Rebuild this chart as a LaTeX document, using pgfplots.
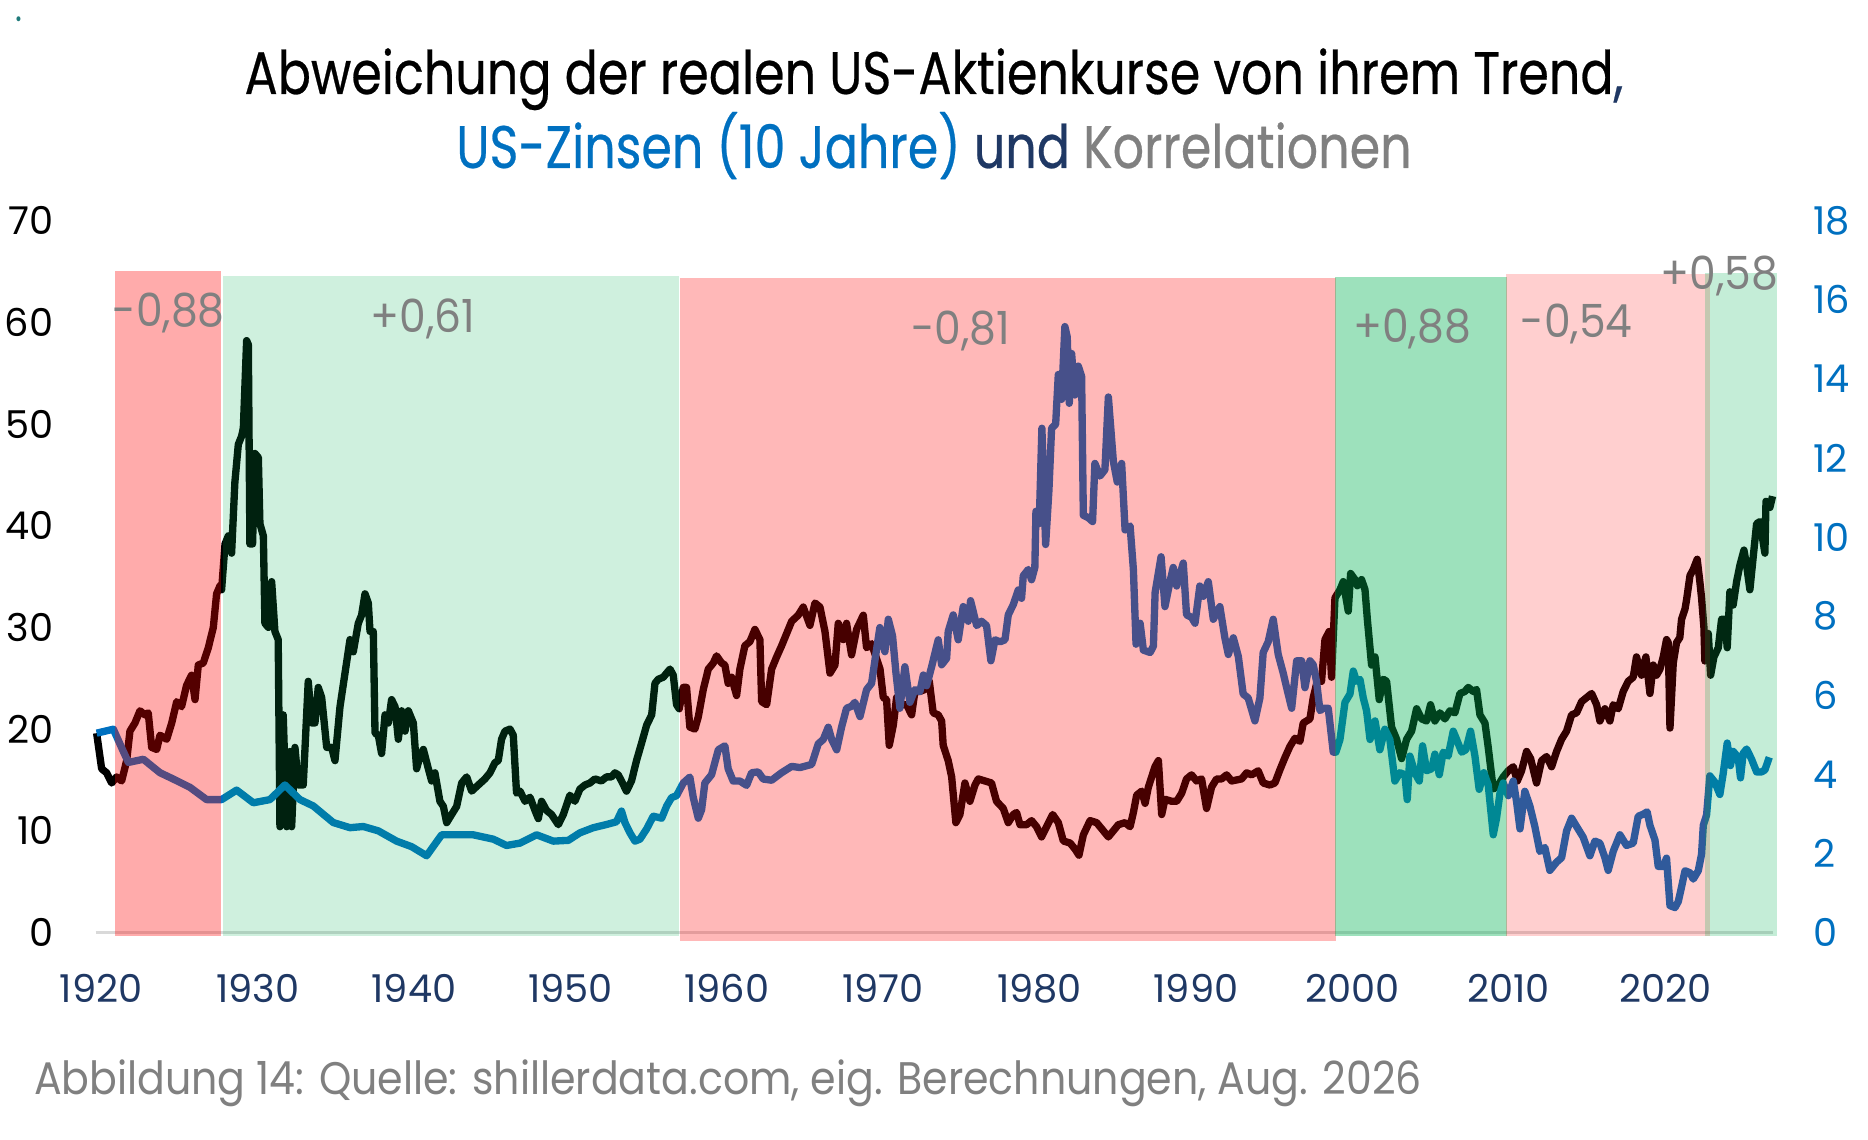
\documentclass[border=0pt]{standalone}
\usepackage{fontspec}
\setmainfont[FakeStretch=0.82]{Poppins}
\newfontfamily\titlefont[FakeStretch=0.82,FakeBold=0.4]{Poppins}
\newfontfamily\tickfont{Poppins}
\newfontfamily\corrfont[FakeStretch=0.93]{Poppins}
\newfontfamily\footfont[FakeStretch=0.90]{Poppins}
\usepackage{pgfplots}
\pgfplotsset{compat=1.18}
\definecolor{zblue}{HTML}{0070C0}
\definecolor{navy}{HTML}{1F3864}
\definecolor{cgray}{HTML}{808080}
\definecolor{bgreen}{HTML}{00B050}
\definecolor{axgray}{HTML}{D9D9D9}
\definecolor{dotc}{HTML}{1F7A7A}

\pgfplotsset{
  base/.style={
    at={(28.71pt,-279.75pt)}, anchor=south west, scale only axis,
    width=503.2pt, height=213.57pt,
    xmin=1919.65, xmax=2026.9,
    axis line style={draw=none}, major tick length=0pt,
    /pgf/number format/assume math mode=true,
    tick label style={font=\tickfont\fontsize{11.5}{12}\selectfont},
  }
}

\begin{document}
\begin{tikzpicture}
\useasboundingbox (0,0) rectangle (560.4pt,-342pt);

% ---------- axis 1: deviation from trend (left) ----------
\begin{axis}[base,
  ymin=0, ymax=70, ytick={0,10,20,30,40,50,60,70},
  xtick={1920,1930,1940,1950,1960,1970,1980,1990,2000,2010,2020},
  xticklabels={1920,1930,1940,1950,1960,1970,1980,1990,2000,2010,2020},
  xtick pos=bottom, ytick pos=left,
  yticklabel style={anchor=east, inner sep=0pt, xshift=-12.5pt, text=black},
  xticklabel style={anchor=north, inner sep=0pt, yshift=-12.4pt, text=navy},
  clip=false]
\addplot[axgray, line width=0.8pt] coordinates {(1919.65,0) (2026.9,0)};
\addplot[black, line width=2.2pt, line join=round] coordinates {
(1919.71,19.6) (1920.03,16.1) (1920.35,15.7) (1920.67,14.7) (1920.99,15.3) (1921.31,14.9)
(1921.63,16.9) (1921.84,19.8) (1922.16,20.6) (1922.48,21.8) (1922.80,21.4) (1923.01,21.6)
(1923.23,18.2) (1923.55,18.0) (1923.76,19.4) (1924.19,19.0) (1924.51,20.6) (1924.83,22.7)
(1925.14,22.2) (1925.46,24.3) (1925.78,25.3) (1926.00,22.9) (1926.21,26.3) (1926.53,26.5)
(1926.85,28.0) (1927.17,30.0) (1927.38,33.3) (1927.60,34.1) (1927.70,33.7) (1927.92,38.2)
(1928.13,39.0) (1928.34,37.3) (1928.55,44.3) (1928.77,48.0) (1928.98,48.8) (1929.09,49.6)
(1929.30,58.2) (1929.41,57.8) (1929.51,38.2) (1929.68,38.2) (1929.83,47.1) (1930.05,46.7)
(1930.15,40.2) (1930.37,39.0) (1930.47,30.4) (1930.69,30.0) (1930.90,34.5) (1931.11,29.6)
(1931.32,28.8) (1931.43,10.4) (1931.64,21.4) (1931.86,10.4) (1932.07,17.8) (1932.18,10.4)
(1932.39,18.2) (1932.61,14.5) (1932.92,14.5) (1933.24,24.7) (1933.46,20.6) (1933.67,20.6)
(1933.88,24.1) (1934.10,23.1) (1934.42,18.2) (1934.74,18.2) (1934.95,16.9) (1935.27,22.2)
(1935.59,25.5) (1935.91,28.8) (1936.12,27.6) (1936.44,30.4) (1936.65,31.2) (1936.87,33.3)
(1937.08,32.4) (1937.19,29.6) (1937.40,29.6) (1937.51,19.6) (1937.72,19.4) (1937.93,17.6)
(1938.15,21.4) (1938.36,20.6) (1938.57,22.9) (1938.79,22.2) (1939.00,19.0) (1939.21,21.8)
(1939.43,19.8) (1939.64,21.8) (1939.96,20.6) (1940.17,16.1) (1940.38,17.3) (1940.60,18.0)
(1940.92,16.1) (1941.13,14.9) (1941.34,15.7) (1941.66,12.9) (1941.88,12.4) (1942.09,10.8)
(1942.41,11.6) (1942.73,12.4) (1943.05,14.7) (1943.37,15.3) (1943.69,13.9) (1944.11,14.5)
(1944.54,15.1) (1944.86,15.7) (1945.18,16.7) (1945.39,16.9) (1945.60,19.0) (1945.82,19.8)
(1946.14,20.0) (1946.35,19.4) (1946.56,13.7) (1946.78,13.9) (1947.10,12.9) (1947.42,13.3)
(1947.74,12.0) (1947.95,11.2) (1948.16,12.9) (1948.48,12.0) (1948.80,11.6) (1949.23,10.6)
(1949.55,11.6) (1949.97,13.5) (1950.29,12.9) (1950.61,14.1) (1950.93,14.5) (1951.25,14.7)
(1951.57,15.1) (1951.99,14.9) (1952.31,15.3) (1952.63,15.3) (1952.85,15.7) (1953.06,15.5)
(1953.27,14.9) (1953.59,13.9) (1953.91,14.9) (1954.23,16.9) (1954.55,18.6) (1954.88,20.4)
(1955.20,21.4) (1955.41,24.5) (1955.62,24.9) (1955.94,25.1) (1956.37,25.9) (1956.58,25.3)
(1956.79,22.4) (1956.96,22.0) (1957.22,24.1) (1957.43,24.1) (1957.64,20.2) (1957.96,20.0)
(1958.18,21.2) (1958.50,23.9) (1958.82,25.9) (1959.14,26.5) (1959.35,27.2) (1959.67,26.5)
(1959.88,26.3) (1960.09,24.5) (1960.31,25.1) (1960.63,23.3) (1960.84,25.9) (1961.16,28.2)
(1961.48,28.6) (1961.80,29.8) (1962.12,28.8) (1962.23,22.7) (1962.55,22.4) (1962.87,25.9)
(1963.19,27.1) (1963.51,28.2) (1963.83,29.4) (1964.15,30.6) (1964.57,31.2) (1964.89,32.0)
(1965.32,30.2) (1965.64,32.4) (1965.96,32.0) (1966.28,29.6) (1966.60,25.5) (1966.92,26.3)
(1967.13,30.4) (1967.45,28.8) (1967.66,30.4) (1967.98,27.3) (1968.30,29.8) (1968.73,31.2)
(1968.94,28.0) (1969.26,28.4) (1969.80,25.9) (1970.01,23.1) (1970.22,22.9) (1970.39,18.4)
(1970.65,20.4) (1970.86,23.1) (1971.18,22.4) (1971.50,22.4) (1971.82,21.4) (1972.03,23.7)
(1972.35,23.7) (1972.67,23.9) (1972.95,24.7) (1973.20,21.6) (1973.52,21.4) (1973.74,20.8)
(1973.84,18.4) (1974.16,16.9) (1974.38,15.3) (1974.65,10.8) (1974.91,11.6) (1975.23,14.7)
(1975.55,12.9) (1975.87,14.5) (1976.08,15.1) (1976.51,14.9) (1976.93,14.7) (1977.25,12.9)
(1977.68,12.2) (1978.00,10.8) (1978.32,11.6) (1978.53,11.8) (1978.75,10.6) (1979.17,10.6)
(1979.49,11.0) (1979.81,10.4) (1980.13,9.4) (1980.45,10.4) (1980.84,11.6) (1981.20,10.8)
(1981.52,9.0) (1981.95,8.8) (1982.27,8.2) (1982.52,7.6) (1982.80,9.6) (1983.23,11.0)
(1983.65,10.8) (1984.08,10.0) (1984.40,9.4) (1984.72,10.0) (1985.04,10.6) (1985.47,10.8)
(1985.79,10.4) (1986.00,11.8) (1986.21,13.5) (1986.53,13.9) (1986.75,12.7) (1986.96,14.3)
(1987.17,15.3) (1987.38,16.3) (1987.60,16.9) (1987.81,11.6) (1988.02,13.1) (1988.45,12.9)
(1988.77,12.9) (1989.09,13.7) (1989.40,15.1) (1989.72,15.5) (1990.04,14.9) (1990.36,15.1)
(1990.68,12.2) (1991.00,14.3) (1991.32,15.1) (1991.64,15.1) (1991.96,15.5) (1992.28,14.9)
(1992.60,15.0) (1992.92,15.1) (1993.24,15.7) (1993.56,15.5) (1993.98,15.9) (1994.30,14.7)
(1994.73,14.5) (1995.05,14.7) (1995.37,16.0) (1995.69,17.2) (1996.01,18.3) (1996.33,19.1)
(1996.65,18.8) (1996.86,20.6) (1997.29,21.0) (1997.50,23.1) (1997.82,25.1) (1998.03,24.7)
(1998.25,28.8) (1998.52,29.6) (1998.67,25.1) (1998.89,32.9) (1999.21,33.7) (1999.42,34.5)
(1999.74,31.6) (1999.89,35.3) (2000.17,34.7) (2000.32,34.1) (2000.59,34.7) (2000.81,33.7)
(2000.96,30.8) (2001.23,26.3) (2001.45,27.1) (2001.72,22.9) (2001.98,24.9) (2002.19,24.7)
(2002.51,20.2) (2002.83,19.0) (2003.15,17.1) (2003.47,19.0) (2003.79,19.8) (2004.11,22.0)
(2004.43,21.0) (2004.75,20.8) (2005.00,22.4) (2005.28,20.8) (2005.60,21.6) (2005.92,21.0)
(2006.24,21.8) (2006.56,21.6) (2006.88,23.5) (2007.20,23.7) (2007.41,24.1) (2007.73,23.7)
(2007.94,23.9) (2008.16,21.4) (2008.48,20.6) (2008.69,18.2) (2009.01,14.1) (2009.33,14.5)
(2009.65,15.3) (2009.97,15.9) (2010.29,16.3) (2010.55,14.9) (2010.82,15.9) (2011.14,17.8)
(2011.40,17.1) (2011.78,14.7) (2012.10,16.9) (2012.42,17.3) (2012.74,16.3) (2013.06,17.8)
(2013.38,19.0) (2013.70,19.8) (2014.02,21.4) (2014.34,21.6) (2014.66,22.7) (2014.98,23.1)
(2015.30,23.5) (2015.62,22.4) (2015.83,20.8) (2016.15,22.0) (2016.47,20.8) (2016.68,22.4)
(2017.00,22.0) (2017.32,23.7) (2017.64,24.7) (2017.96,25.1) (2018.17,27.1) (2018.49,25.3)
(2018.77,27.1) (2019.03,23.5) (2019.24,26.3) (2019.45,25.3) (2019.67,25.9) (2019.88,27.1)
(2020.09,28.8) (2020.20,28.5) (2020.31,20.1) (2020.52,26.5) (2020.73,28.5) (2020.94,29.0)
(2021.05,30.8) (2021.27,31.8) (2021.37,32.7) (2021.59,35.1) (2021.80,35.7) (2022.05,36.7)
(2022.22,34.5) (2022.33,32.9) (2022.48,30.0) (2022.54,26.7) (2022.76,29.4) (2022.91,25.3)
(2023.12,27.1) (2023.40,28.0) (2023.61,30.8) (2023.82,30.8) (2023.97,28.0) (2024.14,33.5)
(2024.35,32.2) (2024.57,34.5) (2024.78,36.1) (2025.04,37.6) (2025.21,36.1) (2025.42,33.7)
(2025.63,36.9) (2025.85,40.2) (2026.06,40.4) (2026.38,37.3) (2026.45,42.4) (2026.70,41.8)
(2026.87,42.9)};
\end{axis}

% ---------- axis 2: 10-year rates (right) ----------
\begin{axis}[base,
  ymin=0, ymax=18, ytick={0,2,4,6,8,10,12,14,16,18},
  xtick=\empty, ytick pos=right, yticklabel pos=right,
  yticklabel style={anchor=west, inner sep=0pt, xshift=12pt, text=zblue}]
\addplot[zblue, line width=2.2pt, line join=round] coordinates {
(1919.71,5.04) (1920.78,5.14) (1921.31,4.67) (1921.74,4.30) (1922.70,4.38) (1923.76,4.04)
(1924.61,3.88) (1925.68,3.67) (1926.74,3.36) (1927.70,3.36) (1928.66,3.60) (1929.73,3.28)
(1930.79,3.36) (1931.75,3.73) (1932.71,3.36) (1933.56,3.20) (1934.84,2.78) (1935.91,2.65)
(1936.76,2.68) (1937.72,2.57) (1938.89,2.31) (1939.85,2.17) (1940.81,1.94) (1941.77,2.47)
(1943.79,2.47) (1945.07,2.36) (1945.92,2.20) (1946.78,2.26) (1947.84,2.47) (1948.91,2.31)
(1949.87,2.33) (1950.61,2.52) (1951.47,2.65) (1952.31,2.73) (1952.95,2.80) (1953.27,3.07)
(1953.49,2.78) (1953.81,2.52) (1954.13,2.31) (1954.45,2.36) (1954.88,2.62) (1955.30,2.94)
(1955.84,2.89) (1956.16,3.20) (1956.47,3.41) (1956.79,3.46) (1957.22,3.78) (1957.64,3.93)
(1957.86,3.41) (1958.18,2.89) (1958.39,3.10) (1958.60,3.78) (1959.03,3.99) (1959.46,4.62)
(1959.88,4.72) (1960.09,4.14) (1960.41,3.83) (1960.84,3.83) (1961.27,3.72) (1961.59,4.04)
(1962.01,4.06) (1962.33,3.88) (1962.87,3.85) (1963.51,4.04) (1964.15,4.20) (1964.68,4.17)
(1965.43,4.25) (1965.85,4.77) (1966.17,4.88) (1966.49,5.19) (1966.71,4.88) (1967.03,4.62)
(1967.34,5.19) (1967.66,5.67) (1967.98,5.72) (1968.19,5.82) (1968.52,5.46) (1968.94,6.14)
(1969.26,6.30) (1969.47,6.87) (1969.79,7.71) (1970.11,7.10) (1970.33,7.92) (1970.60,7.50)
(1970.82,6.56) (1971.07,5.67) (1971.39,6.72) (1971.71,5.82) (1972.03,6.14) (1972.35,6.09)
(1972.57,6.51) (1972.78,6.24) (1973.10,6.72) (1973.52,7.40) (1973.74,6.77) (1974.06,6.93)
(1974.16,7.61) (1974.48,8.03) (1974.80,7.40) (1975.12,8.24) (1975.44,7.87) (1975.59,8.39)
(1975.98,7.76) (1976.29,7.87) (1976.61,7.76) (1976.89,6.87) (1977.15,7.40) (1977.47,7.35)
(1977.79,7.40) (1978.00,8.03) (1978.32,8.29) (1978.64,8.66) (1978.85,8.45) (1978.96,9.02)
(1979.28,9.18) (1979.49,8.92) (1979.70,9.23) (1979.77,10.65) (1979.98,10.34) (1980.15,12.75)
(1980.39,9.81) (1980.60,11.18) (1980.77,12.75) (1981.03,12.85) (1981.20,14.11) (1981.41,13.48)
(1981.62,15.32) (1981.77,15.06) (1981.90,13.38) (1982.05,14.64) (1982.26,13.59) (1982.48,14.32)
(1982.69,14.06) (1982.80,10.55) (1983.11,10.49) (1983.39,10.39) (1983.54,11.86) (1983.86,11.54)
(1984.18,11.70) (1984.40,13.54) (1984.72,11.91) (1984.97,11.39) (1985.25,11.86) (1985.47,10.18)
(1985.79,10.28) (1986.00,9.18) (1986.17,7.29) (1986.43,7.82) (1986.64,7.14) (1987.07,7.08)
(1987.28,7.24) (1987.39,8.60) (1987.77,9.50) (1988.02,8.24) (1988.34,8.87) (1988.55,9.23)
(1988.77,8.76) (1989.19,9.34) (1989.40,8.03) (1989.72,7.97) (1989.94,7.82) (1990.25,8.76)
(1990.47,8.50) (1990.79,8.87) (1991.11,7.92) (1991.53,8.24) (1991.85,7.45) (1992.07,7.03)
(1992.39,7.45) (1992.71,6.98) (1993.02,6.03) (1993.34,5.93) (1993.77,5.35) (1994.09,5.93)
(1994.30,7.08) (1994.62,7.35) (1994.94,7.92) (1995.26,7.03) (1995.58,6.56) (1995.80,6.19)
(1996.12,5.67) (1996.44,6.87) (1996.76,6.87) (1996.97,6.19) (1997.29,6.87) (1997.50,6.77)
(1997.71,6.35) (1997.93,5.61) (1998.14,5.67) (1998.46,5.67) (1998.78,4.56) (1998.95,4.56)
(1999.21,4.88) (1999.53,5.82) (1999.85,6.03) (2000.06,6.61) (2000.27,6.35) (2000.49,6.40)
(2000.70,5.93) (2000.91,5.61) (2001.13,4.88) (2001.45,5.35) (2001.76,4.62) (2002.08,5.14)
(2002.40,4.88) (2002.72,3.83) (2003.04,4.04) (2003.36,3.99) (2003.51,3.36) (2003.68,4.46)
(2004.00,4.04) (2004.28,3.83) (2004.49,4.72) (2004.75,4.09) (2005.07,4.14) (2005.28,4.51)
(2005.56,3.99) (2005.81,4.56) (2006.13,4.46) (2006.45,5.09) (2006.67,4.88) (2006.99,4.56)
(2007.26,4.62) (2007.56,5.09) (2007.84,4.46) (2008.11,3.62) (2008.41,4.04) (2008.69,3.73)
(2009.01,2.47) (2009.22,2.89) (2009.44,3.52) (2009.65,3.78) (2009.97,3.46) (2010.29,3.83)
(2010.50,3.31) (2010.72,2.62) (2011.03,3.57) (2011.35,3.20) (2011.67,2.68) (2011.99,2.05)
(2012.31,2.15) (2012.63,1.57) (2013.06,1.78) (2013.38,1.89) (2013.70,2.57) (2014.02,2.89)
(2014.34,2.68) (2014.76,2.41) (2015.19,1.94) (2015.51,2.31) (2015.83,2.26) (2016.15,1.89)
(2016.36,1.57) (2016.68,2.05) (2017.11,2.47) (2017.53,2.20) (2017.96,2.26) (2018.28,2.94)
(2018.60,2.99) (2018.85,3.05) (2019.03,2.71) (2019.35,2.34) (2019.56,1.67) (2019.88,1.67)
(2020.09,1.88) (2020.31,0.68) (2020.63,0.63) (2020.84,0.78) (2021.05,1.15) (2021.27,1.56)
(2021.59,1.51) (2021.80,1.35) (2022.12,1.56) (2022.33,1.98) (2022.44,2.71) (2022.65,2.97)
(2022.86,3.96) (2023.18,3.80) (2023.50,3.49) (2023.71,4.01) (2023.97,4.79) (2024.18,4.22)
(2024.35,4.58) (2024.67,4.43) (2024.82,3.91) (2024.99,4.53) (2025.21,4.64) (2025.53,4.38)
(2025.85,4.06) (2026.17,4.06) (2026.38,4.11) (2026.66,4.43)};
\end{axis}

% ---------- axis 3: correlation bands on top ----------
\begin{axis}[base, ymin=0, ymax=70, xtick=\empty, ytick=\empty, clip=false]
\addplot[draw=none, fill=red, fill opacity=0.33] coordinates {(1920.88,-0.3) (1927.64,-0.3) (1927.64,65.0) (1920.88,65.0)};
\addplot[draw=none, fill=bgreen, fill opacity=0.19] coordinates {(1927.76,-0.3) (1956.94,-0.3) (1956.94,64.55) (1927.76,64.55)};
\addplot[draw=none, fill=red, fill opacity=0.28] coordinates {(1957.00,-0.85) (1998.93,-0.85) (1998.93,64.4) (1957.00,64.4)};
\addplot[draw=none, fill=bgreen, fill opacity=0.384] coordinates {(1998.88,-0.3) (2009.90,-0.3) (2009.90,64.5) (1998.88,64.5)};
\addplot[draw=none, fill=red, fill opacity=0.19] coordinates {(2009.84,-0.3) (2022.86,-0.3) (2022.86,64.7) (2009.84,64.7)};
\addplot[draw=none, fill=bgreen, fill opacity=0.23] coordinates {(2022.55,-0.3) (2027.13,-0.3) (2027.13,64.8) (2022.55,64.8)};
\end{axis}

% ---------- correlation labels ----------
\begin{scope}[every node/.style={anchor=base, inner sep=0pt, text=cgray, font=\corrfont\fontsize{13.7}{14}\selectfont}]
\node at (50.6pt,-98.1pt) {-0,88};
\node at (126.9pt,-99.9pt) {+0,61};
\node at (288.2pt,-103.5pt) {-0,81};
\node at (423.6pt,-102.9pt) {+0,88};
\node at (473.0pt,-101.4pt) {-0,54};
\node at (515.9pt,-87.0pt) {+0,58};
\end{scope}

% ---------- title ----------
\node[anchor=base, inner sep=0pt, font=\titlefont\fontsize{18}{20}\selectfont] at (280.2pt,-28.2pt)
  {Abweichung der realen US-Aktienkurse von ihrem Trend\textcolor{navy}{,}};
\node[anchor=base, inner sep=0pt, font=\titlefont\fontsize{18}{20}\selectfont] at (280.2pt,-50.4pt)
  {\textcolor{zblue}{US-Zinsen (10 Jahre)} \textcolor{navy}{und} \textcolor{cgray}{Korrelationen}};

% ---------- footer ----------
\node[anchor=base west, inner sep=0pt, text=cgray, font=\footfont\fontsize{13.7}{15}\selectfont] at (10pt,-328.2pt)
  {Abbildung 14: Quelle: shillerdata.com, eig. Berechnungen, Aug. 2026};

% small dot top-left
\node[anchor=center, inner sep=0pt, text=dotc, font=\fontsize{12}{12}\selectfont] at (5.6pt,-5.8pt) {.};
\end{tikzpicture}
\end{document}
